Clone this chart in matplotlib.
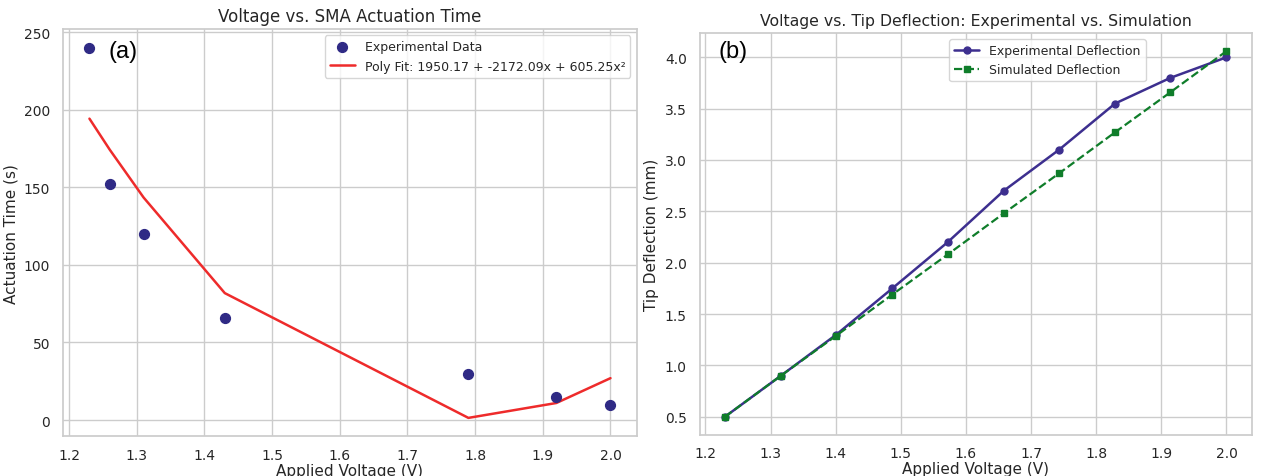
import matplotlib
matplotlib.use("Agg")
import matplotlib.pyplot as plt
import seaborn as sns

sns.set_theme(style="whitegrid")
plt.rcParams['font.family'] = ['DejaVu Sans']

# panel (a): actuation time
volt_a = [1.23, 1.26, 1.31, 1.43, 1.79, 1.92, 2.00]
act_time = [240, 152, 120, 66, 30, 15, 10]
fit_time = [194.2, 174.2, 143.4, 81.8, 1.4, 11.0, 27.0]
fit_label = "Poly Fit: 1950.17 + -2172.09x + 605.25x\u00b2"

# panel (b): tip deflection
volt_b = [1.23, 1.316, 1.401, 1.487, 1.572, 1.658, 1.743, 1.829, 1.914, 2.00]
exp_defl = [0.50, 0.90, 1.30, 1.75, 2.20, 2.70, 3.10, 3.55, 3.80, 4.00]
sim_defl = [0.50, 0.90, 1.29, 1.69, 2.08, 2.48, 2.87, 3.27, 3.66, 4.06]

fig = plt.figure(figsize=(12.68, 4.77), dpi=100)
ax1 = fig.add_axes([0.050, 0.083, 0.452, 0.854])
ax2 = fig.add_axes([0.552, 0.086, 0.435, 0.843])

ax1.scatter(volt_a, act_time, color='#2f2a85', s=50, label='Experimental Data', zorder=3)
ax1.plot(volt_a, fit_time, color='#ee2b2b', lw=1.8, label=fit_label)
ax1.set_title('Voltage vs. SMA Actuation Time', fontsize=12)
ax1.set_xlabel('Applied Voltage (V)', fontsize=11, labelpad=1)
ax1.set_ylabel('Actuation Time (s)', fontsize=11)
ax1.legend(loc='upper right', fontsize=9)
ax1.text(0.078, 0.946, '(a)', transform=ax1.transAxes, fontsize=17,
         family='Liberation Sans', va='center', color='black')

ax2.plot(volt_b, exp_defl, color='#3d2f8f', marker='o', ms=5, lw=1.8,
         label='Experimental Deflection')
ax2.plot(volt_b, sim_defl, color='#0f7d2a', marker='s', ms=5, lw=1.6, ls='--',
         label='Simulated Deflection')
ax2.set_title('Voltage vs. Tip Deflection: Experimental vs. Simulation', fontsize=11.3)
ax2.set_xlabel('Applied Voltage (V)', fontsize=11, labelpad=1)
ax2.set_ylabel('Tip Deflection (mm)', fontsize=11)
ax2.legend(loc='upper center', bbox_to_anchor=(0.63, 1.0), fontsize=9)
ax2.text(0.034, 0.955, '(b)', transform=ax2.transAxes, fontsize=17,
         family='Liberation Sans', va='center', color='black')

for ax in (ax1, ax2):
    ax.tick_params(labelsize=10)
    ax.tick_params(axis='x', pad=2)

fig.savefig('out.png', dpi=100)
